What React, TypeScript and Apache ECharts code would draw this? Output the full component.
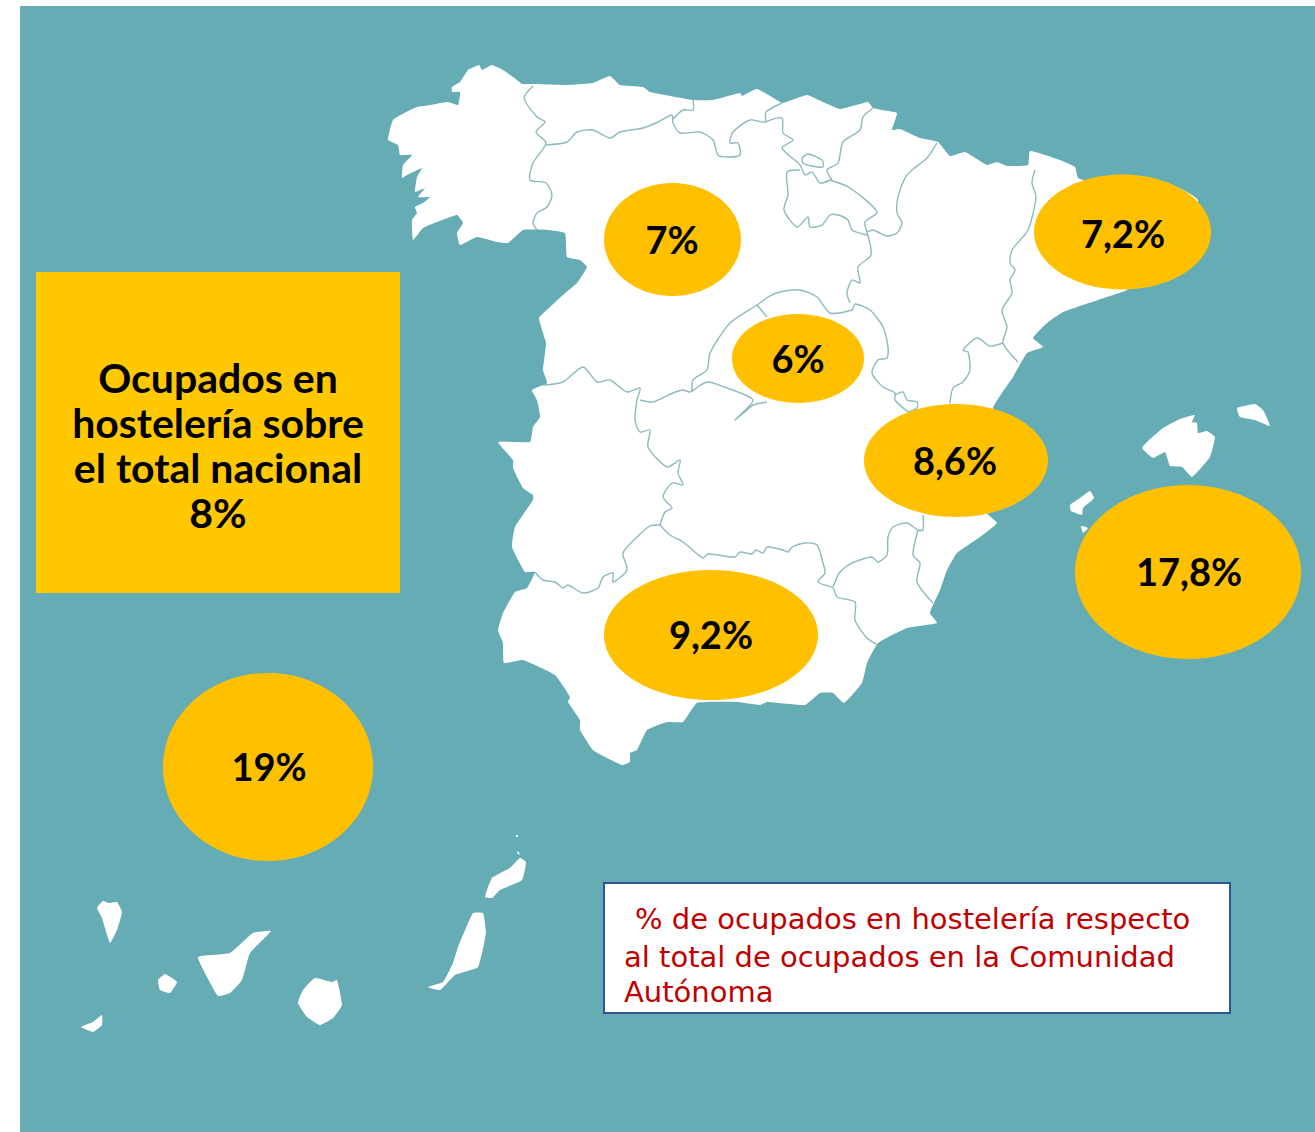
import React, { useEffect, useRef } from "react";
import * as echarts from "echarts";

const WIDTH = 1315;
const HEIGHT = 1132;

// Values shown on the bubbles
const bubbleLabels = ["7%", "7,2%", "6%", "8,6%", "17,8%", "9,2%", "19%"];
const bubbleCentres = [[672.5, 239.5], [1122.5, 232], [798, 358.5], [956, 460.5], [1188, 572], [711, 635], [268, 767]];
const bubbleRadii = [[68.5, 56.5], [88.5, 57.5], [66, 44.5], [92, 56.5], [113, 87], [107, 65], [105, 94]];
const bubbleTextCentres = [[672, 239], [1123, 233], [798, 358], [955, 460], [1189, 571], [711, 634], [269, 766]];

const boxLines = ["Ocupados en", "hostelería sobre", "el total nacional", "8%"];
const noteLines = ["% de ocupados en hostelería respecto", "al total de ocupados en la Comunidad", "Autónoma"];

type Pts = number[][];

const mainland: Pts = [
  [452,87],[460,82],[468,70],[479,65],[482,70],[492,65],[503,70],[517,80],[522,84],[533,84],[567,85],[593,83],[610,76],[620,85],[643,87],[650,92],[693,100],[713,100],[740,93],[742,96],[757,89],[780,102],[783,103],[792,100],[807,95],[823,102],[840,109],[868,102],[873,108],[882,110],[897,113],[892,130],[900,129],[920,138],[938,142],[950,156],[965,152],[987,165],[997,162],[1007,166],[1028,165],[1030,151],[1060,160],[1075,167],[1078,178],[1100,185],[1177,187],[1198,200],[1190,240],[1127,290],[1113,295],[1063,312],[1047,323],[1033,338],[1043,347],[1027,353],[1013,377],[993,408],[1000,460],[987,513],[997,523],[980,537],[957,553],[947,570],[940,590],[930,613],[937,623],[907,628],[878,643],[867,663],[862,683],[844,703],[833,693],[820,693],[805,705],[767,702],[760,705],[737,702],[697,703],[683,722],[667,722],[647,730],[637,750],[630,753],[630,762],[622,765],[607,758],[593,750],[580,730],[580,720],[568,702],[570,697],[555,675],[523,660],[504,663],[503,643],[498,630],[503,613],[515,592],[527,588],[535,572],[525,572],[512,547],[515,527],[533,500],[533,495],[523,488],[513,468],[513,460],[498,442],[530,442],[533,427],[540,417],[537,400],[532,390],[547,383],[543,370],[546,343],[539,318],[550,307],[563,295],[577,283],[587,267],[580,260],[567,257],[565,233],[547,230],[523,230],[508,243],[497,242],[477,237],[460,245],[457,233],[463,223],[457,215],[437,222],[423,228],[413,240],[412,220],[417,213],[415,207],[423,203],[430,197],[418,197],[425,188],[415,192],[417,177],[422,168],[407,175],[402,178],[403,165],[412,155],[400,155],[398,145],[388,140],[393,120],[410,110],[417,107],[430,105],[448,102],[458,105],[460,92],[452,92],
];

const islands: Pts[] = [
  [[97,908],[103,901],[109,903],[117,902],[122,912],[117,930],[110,943],[102,918]],
  [[158,980],[165,974],[177,982],[170,993],[160,990]],
  [[81,1027],[93,1022],[102,1015],[102,1025],[93,1032]],
  [[198,957],[230,953],[253,933],[271,931],[250,953],[242,980],[230,993],[218,996],[207,977]],
  [[315,978],[332,982],[337,980],[342,1005],[333,1018],[320,1025],[307,1017],[298,1003],[303,990]],
  [[473,913],[483,913],[486,933],[478,967],[455,975],[440,990],[428,987],[443,982],[453,963],[458,947]],
  [[485,897],[492,878],[510,868],[520,858],[526,862],[522,880],[500,890],[492,898]],
  [[517,853],[518,851],[520,855]],
  [[516,835],[518,835],[518,837],[516,837]],
  [[1142,448],[1149,440],[1163,428],[1180,419],[1195,415],[1192,422],[1197,423],[1198,433],[1207,431],[1215,437],[1210,457],[1192,477],[1182,467],[1170,466],[1165,452],[1153,458]],
  [[1237,408],[1255,404],[1263,410],[1270,426],[1255,420],[1240,417]],
  [[1070,505],[1080,498],[1090,491],[1094,498],[1083,508],[1082,515],[1071,511]],
  [[1081,526],[1088,528],[1083,533]],
];

const borders: Pts[] = [
  [[533,86],[524,98],[537,117],[545,122],[536,132],[546,143],[533,163],[530,180],[546,183],[552,195],[547,207],[537,213],[533,223],[537,230]],
  [[546,145],[567,142],[577,132],[593,130],[610,138],[620,132],[643,128],[658,122],[672,115],[673,123],[680,133],[700,132],[713,140],[718,155],[728,157],[740,155],[738,143],[730,143],[733,132],[750,120],[765,122],[766,112],[782,103]],
  [[673,119],[683,110],[693,110],[693,100]],
  [[765,122],[782,118],[783,133],[793,140],[782,148],[800,165],[805,175],[812,172],[820,183],[830,180]],
  [[873,108],[863,117],[860,130],[843,142],[838,163],[827,170],[832,180]],
  [[802,158],[808,154],[822,160],[823,167],[812,166],[803,163],[802,158]],
  [[800,170],[787,172],[788,195],[784,210],[797,227],[808,217],[810,227],[822,225],[830,215],[838,215],[848,220],[852,230],[867,235]],
  [[830,180],[850,188],[877,212],[865,222],[867,232]],
  [[937,143],[927,158],[912,170],[905,178],[898,197],[897,213],[902,223],[897,233],[887,236],[873,230],[867,232]],
  [[867,232],[871,255],[858,267],[860,283],[852,280],[847,293],[850,303]],
  [[692,392],[693,380],[707,370],[710,353],[730,323],[757,305],[768,297],[780,292],[800,290],[817,297],[830,313],[852,310],[855,304],[870,310],[883,327],[888,347],[887,358],[878,360],[872,373],[883,387],[895,393],[895,400],[908,412]],
  [[757,305],[767,317]],
  [[895,395],[903,392],[907,400],[917,402],[917,408],[908,412]],
  [[950,403],[953,388],[963,382],[970,370],[968,352],[963,350],[977,338],[990,346],[1003,343]],
  [[1035,170],[1032,183],[1036,197],[1028,230],[1012,250],[1010,263],[1015,270],[1010,280],[1012,293],[1002,310],[1007,327],[1003,343],[1018,362]],
  [[543,385],[563,382],[583,367],[597,382],[610,380],[627,392],[640,388],[637,400],[635,420],[640,432],[650,430],[648,447],[667,467],[680,460],[678,473],[683,485],[672,483],[663,497],[672,508],[665,512],[660,525]],
  [[640,400],[653,402],[673,393],[683,390],[690,392],[707,382],[727,388],[753,400],[738,417],[735,420],[747,410],[753,405],[767,402]],
  [[660,525],[650,526],[637,537],[623,553],[627,570],[613,582],[613,573],[603,577],[598,588],[583,593],[568,585],[563,588],[555,582],[543,580],[535,572]],
  [[660,525],[670,535],[683,542],[703,558],[708,554],[735,557],[740,552],[752,554],[756,550],[763,553],[767,547],[783,550],[788,552],[792,547],[805,543],[817,545],[823,563],[825,573],[818,582],[833,588],[837,597],[855,602],[855,620],[867,638],[878,645]],
  [[833,587],[840,572],[852,563],[872,557],[878,562],[887,555],[888,537],[893,527],[907,523],[918,530],[923,530],[923,515]],
  [[918,530],[913,555],[920,563],[917,582],[933,603]],
];

const landShapes = [mainland, ...islands];

export default function App() {
  const ref = useRef<HTMLDivElement>(null);
  useEffect(() => {
    document.body.style.margin = "0";
    const chart = echarts.init(ref.current!, null, { renderer: "svg" });
    const toPts = (api: any, pts: Pts) => pts.map((p) => api.coord(p));
    chart.setOption({
      animation: false,
      backgroundColor: "#ffffff",
      grid: { left: 0, right: 0, top: 0, bottom: 0 },
      xAxis: { type: "value", min: 0, max: WIDTH, show: false },
      yAxis: { type: "value", min: 0, max: HEIGHT, inverse: true, show: false },
      graphic: {
        elements: [
          { type: "rect", z: -10, silent: true, shape: { x: 20, y: 6, width: WIDTH - 20, height: HEIGHT - 6 }, style: { fill: "#66ACB5" } },
        ],
      },
      series: [
        {
          type: "custom", silent: true, clip: false, z: 2,
          coordinateSystem: "cartesian2d",
          data: landShapes.map((_, i) => [i]),
          renderItem: (_: any, api: any) => ({
            type: "polygon",
            shape: { points: toPts(api, landShapes[api.value(0)]), smooth: 0.12 },
            style: { fill: "#ffffff" },
          }),
        },
        {
          type: "custom", silent: true, clip: false, z: 3,
          coordinateSystem: "cartesian2d",
          data: borders.map((_, i) => [i]),
          renderItem: (_: any, api: any) => ({
            type: "polyline",
            shape: { points: toPts(api, borders[api.value(0)]), smooth: 0.25 },
            style: { fill: "none", stroke: "#8DB9BF", lineWidth: 1.4 },
          }),
        },
        {
          type: "custom", silent: true, clip: false, z: 4,
          coordinateSystem: "cartesian2d",
          data: bubbleLabels.map((_, i) => [i]),
          renderItem: (_: any, api: any) => {
            const i = api.value(0);
            const c = api.coord(bubbleCentres[i]);
            const t = api.coord(bubbleTextCentres[i]);
            return {
              type: "group",
              children: [
                { type: "ellipse", shape: { cx: c[0], cy: c[1], rx: bubbleRadii[i][0], ry: bubbleRadii[i][1] }, style: { fill: "#FFC000" } },
                { type: "text", x: t[0], y: t[1], style: { text: bubbleLabels[i], fill: "#000000", font: "bold 38px Lato", align: "center", verticalAlign: "middle" } },
              ],
            };
          },
        },
        {
          type: "custom", silent: true, clip: false, z: 5,
          coordinateSystem: "cartesian2d",
          data: [[0]],
          renderItem: () => ({
            type: "group",
            children: [
              { type: "rect", shape: { x: 36, y: 272, width: 364, height: 321 }, style: { fill: "#FFC800" } },
              ...boxLines.map((line, i) => ({
                type: "text", x: 218, y: 377 + i * 45,
                style: { text: line, fill: "#000000", font: "bold 41px Lato", align: "center", verticalAlign: "middle" },
              })),
              { type: "rect", shape: { x: 604, y: 883, width: 626, height: 130 }, style: { fill: "#ffffff", stroke: "#2F5597", lineWidth: 2 } },
              ...noteLines.map((line, i) => ({
                type: "text", x: i === 0 ? 635 : 624, y: [919, 957, 992][i],
                style: { text: line, fill: "#C00000", font: "29px 'DejaVu Sans'", align: "left", verticalAlign: "middle" },
              })),
            ],
          }),
        },
      ],
    });
    return () => chart.dispose();
  }, []);
  return <div ref={ref} style={{ position: "absolute", left: 0, top: 0, width: WIDTH, height: HEIGHT }} />;
}
